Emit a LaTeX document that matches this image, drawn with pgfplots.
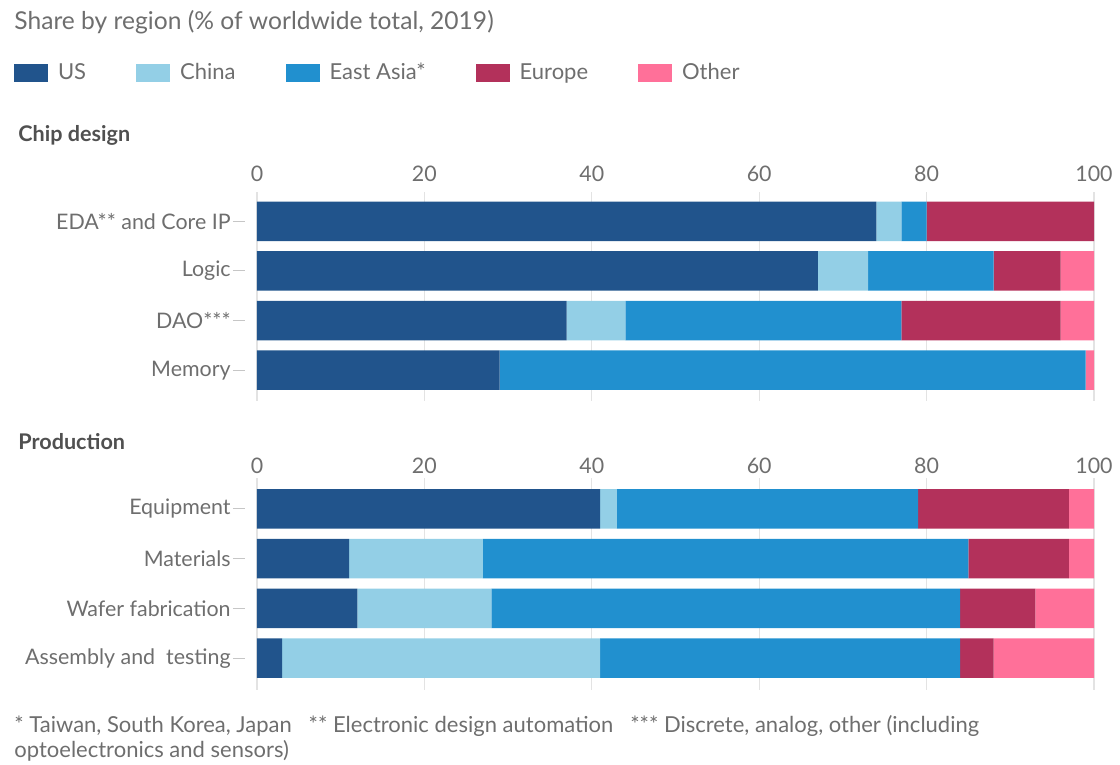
\documentclass[border=0pt]{standalone}
\usepackage{fontspec}
\setmainfont{Lato}
\usepackage{pgfplots}
\pgfplotsset{compat=1.18}
\definecolor{cUS}{HTML}{21548C}
\definecolor{cCN}{HTML}{93CFE6}
\definecolor{cEA}{HTML}{2190CF}
\definecolor{cEU}{HTML}{B3315B}
\definecolor{cOT}{HTML}{FF7099}
\definecolor{txt}{HTML}{6E6E6E}
\definecolor{hdr}{HTML}{505050}
\definecolor{grd}{HTML}{E3E3E3}
\newcommand{\lblf}{\fontsize{10.7}{12}\selectfont}
\pgfplotsset{
  sw/.style={legend image code/.code={\fill[##1] (0pt,-4.5pt) rectangle (17pt,4.5pt);}},
  regstyle/.style={
    xbar stacked, scale only axis, width=418.5pt,
    xmin=0, xmax=100, y dir=reverse,
    bar width=19.75pt,
    axis line style={draw=none},
    xtick={0,20,...,100}, xticklabel pos=upper,
    xticklabel={\pgfmathprintnumber[assume math mode=true]{\tick}},
    xmajorgrids, grid style={grd, line width=0.6pt},
    xtick style={draw=none},
    ytick={0,1,2,3}, ytick pos=left,
    ytick style={draw=gray!45, line width=0.5pt, xshift=-6pt},
    major tick length=6pt, tick align=outside,
    yticklabel style={font=\lblf, text=txt, inner sep=0pt, xshift=-7pt},
    xticklabel style={font=\lblf, text=txt},
    every axis plot/.append style={draw=none, sw},
  }
}
\begin{document}
\begin{tikzpicture}
\path[use as bounding box] (0,0) rectangle (560pt,-382.5pt);
\node[anchor=west, text=txt, inner sep=0pt, font=\fontsize{12.3}{14}\selectfont] at (7pt,-11pt) {Share by region (\% of worldwide total, 2019)};
\node[anchor=west, text=hdr, inner sep=0pt, font=\fontsize{10.8}{12}\selectfont\bfseries] at (9pt,-67.5pt) {Chip design};
\node[anchor=west, text=hdr, inner sep=0pt, font=\fontsize{10.8}{12}\selectfont\bfseries] at (9pt,-221pt) {Production};

\begin{axis}[regstyle,
  at={(128.5pt,-96pt)}, anchor=north west,
  height=104.5pt, ymin=-0.59, ymax=3.62,
  yticklabels={EDA** and Core IP, Logic, DAO***, Memory},
  xticklabel style={yshift=-4.5pt},
  legend columns=5,
  legend style={at={(axis description cs:-0.2903,1.6172)}, anchor=north west,
    draw=none, fill=none, inner sep=0pt, outer sep=0pt,
    font=\fontsize{11}{12}\selectfont, text=txt, nodes={inner sep=0pt},
    /tikz/every odd column/.append style={column sep=5pt},
    /tikz/every even column/.append style={column sep=25pt}},
]
\addplot[fill=cUS] coordinates {(74,0) (67,1) (37,2) (29,3)};
\addplot[fill=cCN] coordinates {(3,0) (6,1) (7,2) (0,3)};
\addplot[fill=cEA] coordinates {(3,0) (15,1) (33,2) (70,3)};
\addplot[fill=cEU] coordinates {(20,0) (8,1) (19,2) (0,3)};
\addplot[fill=cOT] coordinates {(0,0) (4,1) (4,2) (1,3)};
\legend{US, China, East Asia*, Europe, Other}
\end{axis}

\begin{axis}[regstyle,
  at={(128.5pt,-239pt)}, anchor=north west,
  height=106pt, ymin=-0.62, ymax=3.64,
  xticklabel style={yshift=-7.5pt},
  yticklabels={Equipment, Materials, Wafer fabrication, Assembly and\ \ testing},
]
\addplot[fill=cUS] coordinates {(41,0) (11,1) (12,2) (3,3)};
\addplot[fill=cCN] coordinates {(2,0) (16,1) (16,2) (38,3)};
\addplot[fill=cEA] coordinates {(36,0) (58,1) (56,2) (43,3)};
\addplot[fill=cEU] coordinates {(18,0) (12,1) (9,2) (4,3)};
\addplot[fill=cOT] coordinates {(3,0) (3,1) (7,2) (12,3)};
\end{axis}

\node[anchor=north west, align=left, text=txt, inner sep=0pt, font=\fontsize{11}{12.5}\selectfont] at (7pt,-357.5pt)
 {* Taiwan, South Korea, Japan \ \ ** Electronic design automation \ \ *** Discrete, analog, other (including\\optoelectronics and sensors)};
\end{tikzpicture}
\end{document}
